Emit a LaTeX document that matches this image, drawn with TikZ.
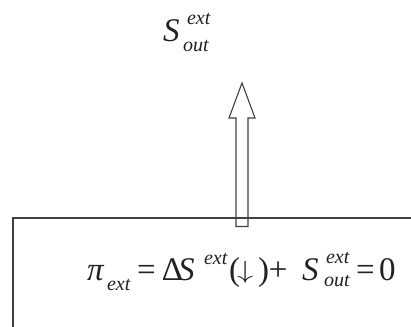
\documentclass[tikz,border=0pt]{standalone}
\usepackage{graphicx}
\usepackage{fontspec}
\setmainfont{Liberation Serif}
\definecolor{linec}{HTML}{404040}
\definecolor{textc}{HTML}{222222}
\tikzset{
  frame/.style={draw=linec, line width=1.1pt},
  arrowshape/.style={draw=linec, line width=1.1pt, line join=miter},
  lbl/.style={inner sep=0pt, outer sep=0pt, text=textc, font=\fontsize{33}{36}\selectfont, anchor=base west},
}
\newcommand{\scr}[1]{{\fontsize{20}{22}\selectfont\textit{#1}}}
\newcommand{\pc}[3]{\rlap{\hspace*{#1pt}\raisebox{#2pt}{#3}}}
\begin{document}
\begin{tikzpicture}[x=1pt,y=1pt]
\useasboundingbox (0,0) rectangle (411,326);
% system box (open to the right and bottom)
\draw[frame] (420,108) -- (13,108) -- (13,-10);
% hollow arrow
\draw[arrowshape] (236,99.5) -- (236,208) -- (229,208) -- (242,243) -- (255,208) -- (248,208) -- (248,99.5) -- cycle;
% top label
\node[lbl] (sout) at (160,284) {\makebox[55pt][l]{\pc{3}{0}{\textit{S}}\pc{27}{17}{\scr{ext}}\pc{23}{-10}{\scr{out}}}};
% equation
\node[lbl] (eq) at (80,46) {\makebox[320pt][l]{%
\pc{7}{0}{\textit{π}}\pc{27}{-10}{\scr{ext}}%
\pc{57}{0}{=}%
\pc{82}{0}{Δ}\pc{98}{0}{\textit{S}}\pc{124}{16}{\scr{ext}}%
\pc{149}{0}{(}\pc{157}{2}{\scalebox{1.3}[1]{$\downarrow$}}\pc{178}{0}{)}%
\pc{189}{0}{+}%
\pc{222}{0}{\textit{S}}\pc{246}{17}{\scr{ext}}\pc{244}{-6}{\scr{out}}%
\pc{276}{0}{=}\pc{299}{0}{0}}};
\end{tikzpicture}
\end{document}
